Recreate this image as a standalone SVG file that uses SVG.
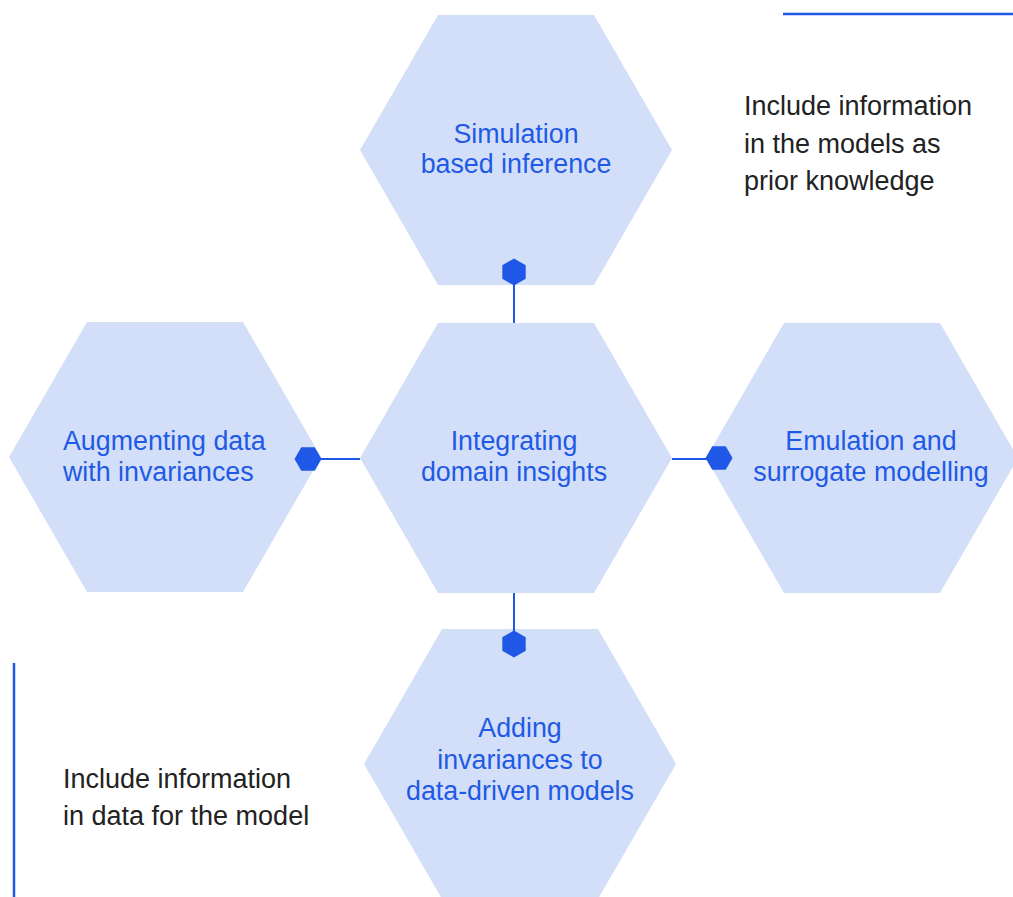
<svg xmlns="http://www.w3.org/2000/svg" width="1013" height="897" viewBox="0 0 1013 897">
<style>
.hex{fill:#d3dff8}
.mk{fill:#1f57e6}
.lbl{font-family:"Liberation Sans",Arial,sans-serif;font-size:26.8px;fill:#1f5ae6;text-anchor:middle}
.note{font-family:"Liberation Sans",Arial,sans-serif;font-size:27px;fill:#222222}
.conn line{stroke:#1f57e6;stroke-width:2}
.rule{stroke:#1f5ae6;stroke-width:2.5}
</style>
<rect width="1013" height="897" fill="#ffffff"/>
<g id="node-top">
<polygon class="hex" points="438,15 594,15 672,150 594,285 438,285 360,150"/>
<text class="lbl" x="516" y="143">Simulation</text>
<text class="lbl" x="516" y="173">based inference</text>
</g>
<g id="node-center">
<polygon class="hex" points="438,323 594,323 672,458 594,593 438,593 360,458"/>
<text class="lbl" x="514" y="450">Integrating</text>
<text class="lbl" x="514" y="481">domain insights</text>
</g>
<g id="node-left">
<polygon class="hex" points="87,322 243,322 321,457 243,592 87,592 9,457"/>
<text class="lbl" x="63" y="450" style="text-anchor:start">Augmenting data</text>
<text class="lbl" x="63" y="481" style="text-anchor:start">with invariances</text>
</g>
<g id="node-right">
<polygon class="hex" points="784,323 940,323 1018,458 940,593 784,593 706,458"/>
<text class="lbl" x="871" y="450">Emulation and</text>
<text class="lbl" x="871" y="481">surrogate modelling</text>
</g>
<g id="node-bottom">
<polygon class="hex" points="442,629 598,629 676,764 598,899 442,899 364,764"/>
<text class="lbl" x="520" y="737">Adding</text>
<text class="lbl" x="520" y="769">invariances to</text>
<text class="lbl" x="520" y="800">data-driven models</text>
</g>
<g id="connectors" class="conn">
<line x1="514" y1="285" x2="514" y2="323"/>
<line x1="514" y1="593" x2="514" y2="631"/>
<line x1="320" y1="459" x2="360" y2="459"/>
<line x1="672" y1="459" x2="707" y2="459"/>
<polygon class="mk" points="514,258.5 525.7,265.25 525.7,278.75 514,285.5 502.3,278.75 502.3,265.25"/>
<polygon class="mk" points="514,630.5 525.7,637.25 525.7,650.75 514,657.5 502.3,650.75 502.3,637.25"/>
<polygon class="mk" points="294.5,459 301.25,447.3 314.75,447.3 321.5,459 314.75,470.7 301.25,470.7"/>
<polygon class="mk" points="705.5,458 712.25,446.3 725.75,446.3 732.5,458 725.75,469.7 712.25,469.7"/>
</g>
<g id="note-top">
<line class="rule" x1="783" y1="14" x2="1013" y2="14"/>
<text class="note" x="744" y="115">Include information</text>
<text class="note" x="744" y="153">in the models as</text>
<text class="note" x="744" y="190">prior knowledge</text>
</g>
<g id="note-bottom">
<line class="rule" x1="14" y1="663" x2="14" y2="897"/>
<text class="note" x="63" y="788">Include information</text>
<text class="note" x="63" y="825">in data for the model</text>
</g>
</svg>
